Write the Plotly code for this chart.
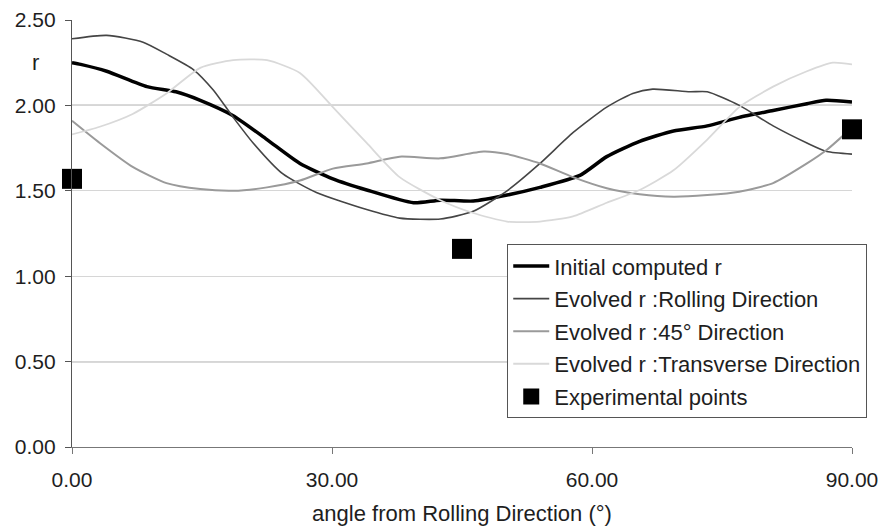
import plotly.graph_objects as go

# ---- data ----
init_x = [0, 1, 4, 8.65, 12, 14.8, 18.6, 22.5, 26.3, 30.1, 34, 39.4, 42.5, 46.3, 50.2, 54, 58.6, 61.7, 65.5, 69.4, 73.3, 77, 80.9, 84.8, 87, 90]
init_y = [2.25, 2.24, 2.20, 2.11, 2.08, 2.03, 1.94, 1.80, 1.66, 1.57, 1.505, 1.43, 1.445, 1.44, 1.475, 1.52, 1.59, 1.70, 1.79, 1.85, 1.88, 1.93, 1.97, 2.01, 2.03, 2.02]

rd_x = [0, 4, 8.2, 10.9, 14, 16.3, 18.6, 20.9, 24.3, 28.2, 34, 37.8, 42.5, 46.3, 50.2, 54, 57.8, 61.7, 64.7, 67, 71.3, 73.3, 77, 80.9, 84.8, 87.1, 90]
rd_y = [2.39, 2.41, 2.37, 2.30, 2.21, 2.09, 1.93, 1.78, 1.60, 1.49, 1.39, 1.34, 1.335, 1.38, 1.50, 1.66, 1.84, 1.99, 2.07, 2.095, 2.08, 2.08, 2.00, 1.88, 1.78, 1.73, 1.715]

d45_x = [0, 3.2, 7, 10.9, 14.8, 18.6, 22.5, 26.3, 30.1, 34, 37.8, 42.5, 47.5, 50.2, 54, 57.8, 61.7, 65.5, 69.4, 73.3, 77, 80.9, 84.8, 87.1, 90]
d45_y = [1.91, 1.78, 1.64, 1.545, 1.51, 1.50, 1.52, 1.56, 1.63, 1.66, 1.70, 1.69, 1.73, 1.715, 1.66, 1.58, 1.515, 1.48, 1.465, 1.475, 1.495, 1.545, 1.66, 1.74, 1.87]

td_x = [0, 3.2, 7, 10.9, 14.8, 18.6, 22.5, 26.3, 30.1, 34, 37.8, 42.5, 46.3, 50.2, 54, 57.8, 61.7, 65.5, 69.4, 73.3, 77, 80.9, 84.8, 87.8, 90]
td_y = [1.83, 1.875, 1.95, 2.07, 2.22, 2.265, 2.265, 2.19, 1.99, 1.78, 1.58, 1.445, 1.37, 1.32, 1.32, 1.35, 1.43, 1.505, 1.62, 1.80, 1.99, 2.11, 2.20, 2.25, 2.24]

exp_x = [0, 45, 90]
exp_y = [1.57, 1.16, 1.86]

x_ticks = [0, 30, 60, 90]
y_ticks = [0, 0.5, 1.0, 1.5, 2.0, 2.5]
dark_grid = [0.5, 2.0]

FONT = "Liberation Sans, Arial, sans-serif"
TXT = "#1e1e1e"

fig = go.Figure()
fig.add_trace(go.Scatter(x=init_x, y=init_y, mode="lines", name="Initial computed r",
                         line=dict(color="#000000", width=3.5, shape="spline", smoothing=0.6),
                         legendgroup="a"))
fig.add_trace(go.Scatter(x=rd_x, y=rd_y, mode="lines", name="Evolved r :Rolling Direction",
                         line=dict(color="#454545", width=1.6, shape="spline", smoothing=0.6),
                         legendgroup="b"))
fig.add_trace(go.Scatter(x=d45_x, y=d45_y, mode="lines", name="Evolved r :45° Direction",
                         line=dict(color="#9a9a9a", width=2, shape="spline", smoothing=0.6),
                         legendgroup="c"))
fig.add_trace(go.Scatter(x=td_x, y=td_y, mode="lines", name="Evolved r :Transverse Direction",
                         line=dict(color="#d9d9d9", width=1.8, shape="spline", smoothing=0.6),
                         legendgroup="d"))
fig.add_trace(go.Scatter(x=exp_x, y=exp_y, mode="markers", name="Experimental points",
                         marker=dict(symbol="square", size=20, color="#000000"),
                         cliponaxis=False, legendgroup="e"))

for g in dark_grid:
    fig.add_shape(type="line", xref="paper", x0=0, x1=1, yref="y", y0=g, y1=g,
                  line=dict(color="#6a6a6a", width=1.2), layer="below")

fig.update_layout(
    width=880, height=526,
    margin=dict(l=72, r=28, t=20, b=79, autoexpand=False),
    paper_bgcolor="white", plot_bgcolor="white",
    font=dict(family=FONT, size=21, color=TXT),
    showlegend=True,
    legend=dict(x=0.558, y=0.475, xanchor="left", yanchor="top",
                bordercolor="#555555", borderwidth=1, bgcolor="white",
                font=dict(size=22, color=TXT), tracegroupgap=1,
                itemwidth=36),
    xaxis=dict(range=[0, 90], tickvals=x_ticks, tickformat=".2f", automargin=False,
               showgrid=False, zeroline=False, showline=True, linecolor="#777777", linewidth=1.2,
               ticks="outside", ticklen=6, tickcolor="#777777", ticklabelstandoff=8,
               tickfont=dict(size=21, color=TXT),
               title=dict(text="angle from Rolling Direction (°)", font=dict(size=22, color=TXT), standoff=16)),
    yaxis=dict(range=[0, 2.5], tickvals=y_ticks, tickformat=".2f", automargin=False,
               showgrid=True, gridcolor="#d6d6d6", gridwidth=1, zeroline=False,
               showline=True, linecolor="#555555", linewidth=1.2,
               ticks="outside", ticklen=6, tickcolor="#555555", ticklabelstandoff=5,
               tickfont=dict(size=21, color=TXT)),
    annotations=[dict(text="r", xref="paper", yref="paper", x=-0.054, y=0.935,
                      showarrow=False, font=dict(size=22, color=TXT))],
)

fig.write_html("out.html")
